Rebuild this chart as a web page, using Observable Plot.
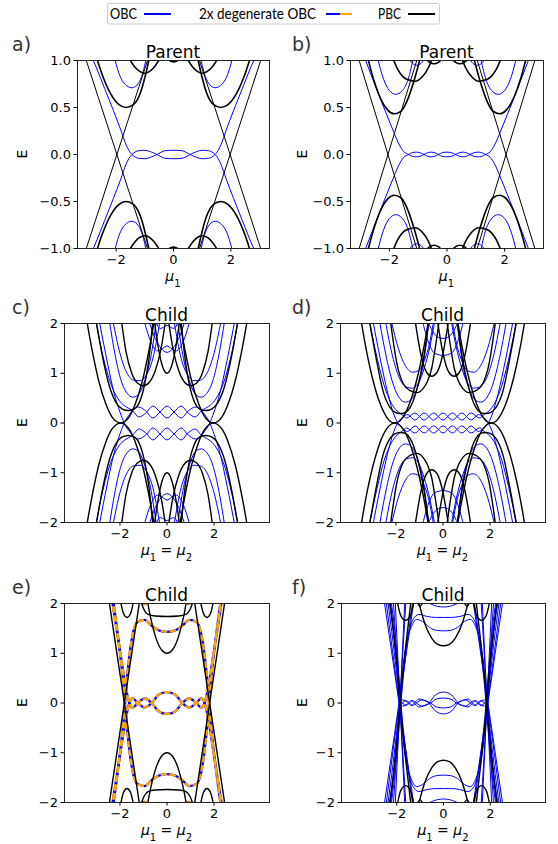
<!DOCTYPE html>
<html>
<head>
<meta charset="utf-8">
<script src="https://cdn.jsdelivr.net/npm/d3@7"></script>
<script src="https://cdn.jsdelivr.net/npm/@observablehq/plot@0.6"></script>
<style>
  body { margin: 0; background: #fff; }
  #fig { position: relative; width: 558px; height: 844px; overflow: hidden; background: #fff; }
  #fig svg { position: absolute; }
</style>
</head>
<body>
<div id="fig"></div>
<script>
// ---------- spectra E(mu), each curve is a list of [mu, E] samples ----------

// (a) parent, first parameter set
const aCross = [
  [[-3.15,1.1],[-0.8,-1.1]],
  [[-3.15,-1.1],[-0.8,1.1]],
  [[0.8,1.1],[3.15,-1.1]],
  [[0.8,-1.1],[3.15,1.1]]
];
const aPBC = [
  [[-2.8,1.15],[-2.5,0.86],[-2.2,0.65],[-1.9,0.53],[-1.65,0.5],[-1.4,0.53],[-1.15,0.66],[-0.95,0.88],[-0.78,1.12]],
  [[0.78,1.12],[0.95,0.88],[1.15,0.66],[1.4,0.53],[1.65,0.5],[1.9,0.53],[2.2,0.65],[2.5,0.86],[2.8,1.15]],
  [[-2.8,-1.15],[-2.5,-0.86],[-2.2,-0.65],[-1.9,-0.53],[-1.65,-0.5],[-1.4,-0.53],[-1.15,-0.66],[-0.95,-0.88],[-0.78,-1.12]],
  [[0.78,-1.12],[0.95,-0.88],[1.15,-0.66],[1.4,-0.53],[1.65,-0.5],[1.9,-0.53],[2.2,-0.65],[2.5,-0.86],[2.8,-1.15]],
  [[-1.6,1.05],[-1.35,0.93],[-1.0,0.865],[-0.7,0.92],[-0.42,1.05]],
  [[0.42,1.05],[0.7,0.92],[1.0,0.865],[1.35,0.93],[1.6,1.05]],
  [[-1.6,-1.05],[-1.35,-0.93],[-1.0,-0.865],[-0.7,-0.92],[-0.42,-1.05]],
  [[0.42,-1.05],[0.7,-0.92],[1.0,-0.865],[1.35,-0.93],[1.6,-1.05]],
  [[-0.35,1.04],[0,0.985],[0.35,1.04]],
  [[-0.35,-1.04],[0,-0.985],[0.35,-1.04]]
];
const aOBC = [
  [[-2.95,1.1],[-2.7,0.93],[-2.4,0.7],[-2.1,0.47],[-1.85,0.27],[-1.65,0.1],[-1.52,0.025],[-1.45,0],[-1.22,-0.04],[-1.0,-0.045],[-0.8,-0.03],[-0.58,0],[-0.3,0.04],[0,0.045],[0.3,0.04],[0.58,0],[0.8,-0.03],[1.0,-0.045],[1.22,-0.04],[1.45,0],[1.52,0.025],[1.65,0.1],[1.85,0.27],[2.1,0.47],[2.4,0.7],[2.7,0.93],[2.95,1.1]],
  [[-2.95,-1.1],[-2.7,-0.93],[-2.4,-0.7],[-2.1,-0.47],[-1.85,-0.27],[-1.65,-0.1],[-1.52,-0.025],[-1.45,0],[-1.22,0.04],[-1.0,0.045],[-0.8,0.03],[-0.58,0],[-0.3,-0.04],[0,-0.045],[0.3,-0.04],[0.58,0],[0.8,0.03],[1.0,0.045],[1.22,0.04],[1.45,0],[1.52,-0.025],[1.65,-0.1],[1.85,-0.27],[2.1,-0.47],[2.4,-0.7],[2.7,-0.93],[2.95,-1.1]],
  [[-2.1,1.08],[-1.9,0.86],[-1.7,0.75],[-1.45,0.71],[-1.22,0.76],[-1.08,0.86],[-0.93,1.05]],
  [[0.93,1.05],[1.08,0.86],[1.22,0.76],[1.45,0.71],[1.7,0.75],[1.9,0.86],[2.1,1.08]],
  [[-2.1,-1.08],[-1.9,-0.86],[-1.7,-0.75],[-1.45,-0.71],[-1.22,-0.76],[-1.08,-0.86],[-0.93,-1.05]],
  [[0.93,-1.05],[1.08,-0.86],[1.22,-0.76],[1.45,-0.71],[1.7,-0.75],[1.9,-0.86],[2.1,-1.08]]
];

// (b) parent, second parameter set
const bCross = [
  [[-3.15,1.1],[-0.95,-1.1]],
  [[-3.15,-1.1],[-0.95,1.1]],
  [[0.95,1.1],[3.15,-1.1]],
  [[0.95,-1.1],[3.15,1.1]]
];
const bPBC = [
  [[-2.85,1.15],[-2.55,0.8],[-2.25,0.56],[-2.05,0.47],[-1.83,0.433],[-1.6,0.46],[-1.4,0.56],[-1.15,0.78],[-0.85,1.12]],
  [[0.85,1.12],[1.15,0.78],[1.4,0.56],[1.6,0.46],[1.83,0.433],[2.05,0.47],[2.25,0.56],[2.55,0.8],[2.85,1.15]],
  [[-2.85,-1.15],[-2.55,-0.8],[-2.25,-0.56],[-2.05,-0.47],[-1.83,-0.433],[-1.6,-0.46],[-1.4,-0.56],[-1.15,-0.78],[-0.85,-1.12]],
  [[0.85,-1.12],[1.15,-0.78],[1.4,-0.56],[1.6,-0.46],[1.83,-0.433],[2.05,-0.47],[2.25,-0.56],[2.55,-0.8],[2.85,-1.15]],
  [[-1.95,1.08],[-1.7,0.9],[-1.4,0.8],[-1.1,0.78],[-0.85,0.83],[-0.65,0.92],[-0.48,1.05]],
  [[0.48,1.05],[0.65,0.92],[0.85,0.83],[1.1,0.78],[1.4,0.8],[1.7,0.9],[1.95,1.08]],
  [[-1.95,-1.08],[-1.7,-0.9],[-1.4,-0.8],[-1.1,-0.78],[-0.85,-0.83],[-0.65,-0.92],[-0.48,-1.05]],
  [[0.48,-1.05],[0.65,-0.92],[0.85,-0.83],[1.1,-0.78],[1.4,-0.8],[1.7,-0.9],[1.95,-1.08]],
  [[-0.78,1.04],[-0.6,0.98],[-0.45,0.965],[-0.3,0.98],[-0.12,1.04]],
  [[0.12,1.04],[0.3,0.98],[0.45,0.965],[0.6,0.98],[0.78,1.04]],
  [[-0.78,-1.04],[-0.6,-0.98],[-0.45,-0.965],[-0.3,-0.98],[-0.12,-1.04]],
  [[0.12,-1.04],[0.3,-0.98],[0.45,-0.965],[0.6,-0.98],[0.78,-1.04]]
];
const bOBC = [
  [[-2.95,-1.1],[-2.7,-0.9],[-2.4,-0.66],[-2.1,-0.43],[-1.85,-0.24],[-1.65,-0.1],[-1.5,-0.03],[-1.33,0],[-1.2,0.02],[-1.07,0.025],[-0.93,0.018],[-0.8,0],[-0.68,-0.018],[-0.55,-0.025],[-0.42,-0.018],[-0.3,0],[-0.15,0.02],[0,0.025],[0.15,0.02],[0.3,0],[0.42,-0.018],[0.55,-0.025],[0.68,-0.018],[0.8,0],[0.93,0.018],[1.07,0.025],[1.2,0.02],[1.33,0],[1.5,-0.03],[1.65,-0.1],[1.85,-0.24],[2.1,-0.43],[2.4,-0.66],[2.7,-0.9],[2.95,-1.1]],
  [[-2.95,1.1],[-2.7,0.9],[-2.4,0.66],[-2.1,0.43],[-1.85,0.24],[-1.65,0.1],[-1.5,0.03],[-1.33,0],[-1.2,-0.02],[-1.07,-0.025],[-0.93,-0.018],[-0.8,0],[-0.68,0.018],[-0.55,0.025],[-0.42,0.018],[-0.3,0],[-0.15,-0.02],[0,-0.025],[0.15,-0.02],[0.3,0],[0.42,0.018],[0.55,0.025],[0.68,0.018],[0.8,0],[0.93,-0.018],[1.07,-0.025],[1.2,-0.02],[1.33,0],[1.5,0.03],[1.65,0.1],[1.85,0.24],[2.1,0.43],[2.4,0.66],[2.7,0.9],[2.95,1.1]],
  [[-2.45,1.08],[-2.2,0.8],[-2.0,0.68],[-1.78,0.64],[-1.55,0.68],[-1.35,0.8],[-1.15,1.05]],
  [[1.15,1.05],[1.35,0.8],[1.55,0.68],[1.78,0.64],[2.0,0.68],[2.2,0.8],[2.45,1.08]],
  [[-2.45,-1.08],[-2.2,-0.8],[-2.0,-0.68],[-1.78,-0.64],[-1.55,-0.68],[-1.35,-0.8],[-1.15,-1.05]],
  [[1.15,-1.05],[1.35,-0.8],[1.55,-0.68],[1.78,-0.64],[2.0,-0.68],[2.2,-0.8],[2.45,-1.08]],
  [[-1.35,1.03],[-1.2,0.97],[-1.05,0.95],[-0.9,0.97],[-0.75,1.03]],
  [[0.75,1.03],[0.9,0.97],[1.05,0.95],[1.2,0.97],[1.35,1.03]],
  [[-1.35,-1.03],[-1.2,-0.97],[-1.05,-0.95],[-0.9,-0.97],[-0.75,-1.03]],
  [[0.75,-1.03],[0.9,-0.97],[1.05,-0.95],[1.2,-0.97],[1.35,-1.03]]
];

// (c) child built from parent (a)
const cPBC = [
  [[-3.5,2.3],[-3.2,1.5],[-2.9,0.84],[-2.6,0.38],[-2.35,0.13],[-2.15,0.03],[-1.975,0],[-1.8,0.03],[-1.6,0.13],[-1.35,0.38],[-1.05,0.84],[-0.75,1.5],[-0.45,2.3]],
  [[0.45,2.3],[0.75,1.5],[1.05,0.84],[1.35,0.38],[1.6,0.13],[1.8,0.03],[1.975,0],[2.15,0.03],[2.35,0.13],[2.6,0.38],[2.9,0.84],[3.2,1.5],[3.5,2.3]],
  [[-3.5,-2.3],[-3.2,-1.5],[-2.9,-0.84],[-2.6,-0.38],[-2.35,-0.13],[-2.15,-0.03],[-1.975,0],[-1.8,-0.03],[-1.6,-0.13],[-1.35,-0.38],[-1.05,-0.84],[-0.75,-1.5],[-0.45,-2.3]],
  [[0.45,-2.3],[0.75,-1.5],[1.05,-0.84],[1.35,-0.38],[1.6,-0.13],[1.8,-0.03],[1.975,0],[2.15,-0.03],[2.35,-0.13],[2.6,-0.38],[2.9,-0.84],[3.2,-1.5],[3.5,-2.3]],
  [[-3.05,2.15],[-2.75,1.35],[-2.45,0.74],[-2.15,0.4],[-1.9,0.28],[-1.65,0.25],[-1.4,0.28],[-1.15,0.44],[-0.95,0.77],[-0.78,1.25],[-0.6,2.05]],
  [[0.6,2.05],[0.78,1.25],[0.95,0.77],[1.15,0.44],[1.4,0.28],[1.65,0.25],[1.9,0.28],[2.15,0.4],[2.45,0.74],[2.75,1.35],[3.05,2.15]],
  [[-3.05,-2.15],[-2.75,-1.35],[-2.45,-0.74],[-2.15,-0.4],[-1.9,-0.28],[-1.65,-0.25],[-1.4,-0.28],[-1.15,-0.44],[-0.95,-0.77],[-0.78,-1.25],[-0.6,-2.05]],
  [[0.6,-2.05],[0.78,-1.25],[0.95,-0.77],[1.15,-0.44],[1.4,-0.28],[1.65,-0.25],[1.9,-0.28],[2.15,-0.4],[2.45,-0.74],[2.75,-1.35],[3.05,-2.15]],
  [[-1.95,2.1],[-1.75,1.45],[-1.5,1.0],[-1.25,0.8],[-1.0,0.75],[-0.75,0.82],[-0.5,1.05],[-0.25,1.5],[-0.05,2.1]],
  [[0.05,2.1],[0.25,1.5],[0.5,1.05],[0.75,0.82],[1.0,0.75],[1.25,0.8],[1.5,1.0],[1.75,1.45],[1.95,2.1]],
  [[-1.95,-2.1],[-1.75,-1.45],[-1.5,-1.0],[-1.25,-0.8],[-1.0,-0.75],[-0.75,-0.82],[-0.5,-1.05],[-0.25,-1.5],[-0.05,-2.1]],
  [[0.05,-2.1],[0.25,-1.5],[0.5,-1.05],[0.75,-0.82],[1.0,-0.75],[1.25,-0.8],[1.5,-1.0],[1.75,-1.45],[1.95,-2.1]],
  [[-0.55,2.1],[-0.4,1.6],[-0.2,1.15],[0,1.0],[0.2,1.15],[0.4,1.6],[0.55,2.1]],
  [[-0.55,-2.1],[-0.4,-1.6],[-0.2,-1.15],[0,-1.0],[0.2,-1.15],[0.4,-1.6],[0.55,-2.1]]
];
const cOBC = [
  [[-3.05,2.1],[-2.7,1.3],[-2.4,0.8],[-2.1,0.5],[-1.85,0.36],[-1.65,0.3],[-1.45,0.24],[-1.2,0.12],[-0.9,0.2],[-0.6,0.34],[-0.3,0.22],[0,0.1],[0.3,0.22],[0.6,0.34],[0.9,0.2],[1.2,0.12],[1.45,0.24],[1.65,0.3],[1.85,0.36],[2.1,0.5],[2.4,0.8],[2.7,1.3],[3.05,2.1]],
  [[-2.9,-2.1],[-2.55,-1.25],[-2.25,-0.6],[-2.0,-0.22],[-1.8,0.02],[-1.6,0.17],[-1.4,0.28],[-1.2,0.32],[-0.9,0.24],[-0.6,0.1],[-0.3,0.22],[0,0.34],[0.3,0.22],[0.6,0.1],[0.9,0.24],[1.2,0.32],[1.4,0.28],[1.6,0.17],[1.8,0.02],[2.0,-0.22],[2.25,-0.6],[2.55,-1.25],[2.9,-2.1]],
  [[-3.05,-2.1],[-2.7,-1.3],[-2.4,-0.8],[-2.1,-0.5],[-1.85,-0.36],[-1.65,-0.3],[-1.45,-0.24],[-1.2,-0.12],[-0.9,-0.2],[-0.6,-0.34],[-0.3,-0.22],[0,-0.1],[0.3,-0.22],[0.6,-0.34],[0.9,-0.2],[1.2,-0.12],[1.45,-0.24],[1.65,-0.3],[1.85,-0.36],[2.1,-0.5],[2.4,-0.8],[2.7,-1.3],[3.05,-2.1]],
  [[-2.9,2.1],[-2.55,1.25],[-2.25,0.6],[-2.0,0.22],[-1.8,-0.02],[-1.6,-0.17],[-1.4,-0.28],[-1.2,-0.32],[-0.9,-0.24],[-0.6,-0.1],[-0.3,-0.22],[0,-0.34],[0.3,-0.22],[0.6,-0.1],[0.9,-0.24],[1.2,-0.32],[1.4,-0.28],[1.6,-0.17],[1.8,-0.02],[2.0,0.22],[2.25,0.6],[2.55,1.25],[2.9,2.1]],
  [[-2.45,2.05],[-2.2,1.35],[-1.95,0.85],[-1.7,0.6],[-1.45,0.52],[-1.2,0.58],[-0.95,0.85],[-0.7,1.3],[-0.45,2.05]],
  [[0.45,2.05],[0.7,1.3],[0.95,0.85],[1.2,0.58],[1.45,0.52],[1.7,0.6],[1.95,0.85],[2.2,1.35],[2.45,2.05]],
  [[-2.45,-2.05],[-2.2,-1.35],[-1.95,-0.85],[-1.7,-0.6],[-1.45,-0.52],[-1.2,-0.58],[-0.95,-0.85],[-0.7,-1.3],[-0.45,-2.05]],
  [[0.45,-2.05],[0.7,-1.3],[0.95,-0.85],[1.2,-0.58],[1.45,-0.52],[1.7,-0.6],[1.95,-0.85],[2.2,-1.35],[2.45,-2.05]],
  [[-2.3,2.05],[-2.0,1.4],[-1.7,1.0],[-1.4,0.86],[-1.15,0.85],[-0.9,0.95],[-0.6,1.3],[-0.3,2.05]],
  [[0.3,2.05],[0.6,1.3],[0.9,0.95],[1.15,0.85],[1.4,0.86],[1.7,1.0],[2.0,1.4],[2.3,2.05]],
  [[-2.3,-2.05],[-2.0,-1.4],[-1.7,-1.0],[-1.4,-0.86],[-1.15,-0.85],[-0.9,-0.95],[-0.6,-1.3],[-0.3,-2.05]],
  [[0.3,-2.05],[0.6,-1.3],[0.9,-0.95],[1.15,-0.85],[1.4,-0.86],[1.7,-1.0],[2.0,-1.4],[2.3,-2.05]],
  [[-1.0,2.1],[-0.7,1.65],[-0.4,1.45],[-0.18,1.5],[0,1.55],[0.18,1.5],[0.4,1.45],[0.7,1.65],[1.0,2.1]],
  [[-0.8,2.1],[-0.5,1.7],[-0.25,1.5],[0,1.42],[0.25,1.5],[0.5,1.7],[0.8,2.1]],
  [[-0.5,2.05],[-0.28,1.9],[0,1.96],[0.28,1.9],[0.5,2.05]],
  [[-1.0,-2.1],[-0.7,-1.65],[-0.4,-1.45],[-0.18,-1.5],[0,-1.55],[0.18,-1.5],[0.4,-1.45],[0.7,-1.65],[1.0,-2.1]],
  [[-0.8,-2.1],[-0.5,-1.7],[-0.25,-1.5],[0,-1.42],[0.25,-1.5],[0.5,-1.7],[0.8,-2.1]],
  [[-0.5,-2.05],[-0.28,-1.9],[0,-1.96],[0.28,-1.9],[0.5,-2.05]]
];

// (d) child built from parent (b)
const dPBC = [
  [[-3.55,2.25],[-3.3,1.56],[-3.0,0.9],[-2.7,0.42],[-2.4,0.12],[-2.2,0.02],[-2.05,0],[-1.9,0.02],[-1.7,0.12],[-1.4,0.42],[-1.1,0.9],[-0.8,1.56],[-0.55,2.25]],
  [[0.55,2.25],[0.8,1.56],[1.1,0.9],[1.4,0.42],[1.7,0.12],[1.9,0.02],[2.05,0],[2.2,0.02],[2.4,0.12],[2.7,0.42],[3.0,0.9],[3.3,1.56],[3.55,2.25]],
  [[-3.55,-2.25],[-3.3,-1.56],[-3.0,-0.9],[-2.7,-0.42],[-2.4,-0.12],[-2.2,-0.02],[-2.05,0],[-1.9,-0.02],[-1.7,-0.12],[-1.4,-0.42],[-1.1,-0.9],[-0.8,-1.56],[-0.55,-2.25]],
  [[0.55,-2.25],[0.8,-1.56],[1.1,-0.9],[1.4,-0.42],[1.7,-0.12],[1.9,-0.02],[2.05,0],[2.2,-0.02],[2.4,-0.12],[2.7,-0.42],[3.0,-0.9],[3.3,-1.56],[3.55,-2.25]],
  [[-3.15,2.1],[-2.85,1.32],[-2.55,0.64],[-2.25,0.31],[-2.05,0.22],[-1.83,0.19],[-1.6,0.21],[-1.4,0.31],[-1.15,0.61],[-0.82,1.32],[-0.6,2.05]],
  [[0.6,2.05],[0.82,1.32],[1.15,0.61],[1.4,0.31],[1.6,0.21],[1.83,0.19],[2.05,0.22],[2.25,0.31],[2.55,0.64],[2.85,1.32],[3.15,2.1]],
  [[-3.15,-2.1],[-2.85,-1.32],[-2.55,-0.64],[-2.25,-0.31],[-2.05,-0.22],[-1.83,-0.19],[-1.6,-0.21],[-1.4,-0.31],[-1.15,-0.61],[-0.82,-1.32],[-0.6,-2.05]],
  [[0.6,-2.05],[0.82,-1.32],[1.15,-0.61],[1.4,-0.31],[1.6,-0.21],[1.83,-0.19],[2.05,-0.22],[2.25,-0.31],[2.55,-0.64],[2.85,-1.32],[3.15,-2.1]],
  [[-2.25,2.1],[-1.95,1.17],[-1.7,0.8],[-1.4,0.65],[-1.1,0.61],[-0.85,0.69],[-0.65,0.85],[-0.48,1.1],[-0.3,1.6],[-0.15,2.1]],
  [[0.15,2.1],[0.3,1.6],[0.48,1.1],[0.65,0.85],[0.85,0.69],[1.1,0.61],[1.4,0.65],[1.7,0.8],[1.95,1.17],[2.25,2.1]],
  [[-2.25,-2.1],[-1.95,-1.17],[-1.7,-0.8],[-1.4,-0.65],[-1.1,-0.61],[-0.85,-0.69],[-0.65,-0.85],[-0.48,-1.1],[-0.3,-1.6],[-0.15,-2.1]],
  [[0.15,-2.1],[0.3,-1.6],[0.48,-1.1],[0.65,-0.85],[0.85,-0.69],[1.1,-0.61],[1.4,-0.65],[1.7,-0.8],[1.95,-1.17],[2.25,-2.1]],
  [[-1.2,2.1],[-0.95,1.4],[-0.7,1.02],[-0.48,0.94],[-0.25,1.02],[0,1.4],[0.25,2.1]],
  [[-0.25,2.1],[0,1.4],[0.25,1.02],[0.48,0.94],[0.7,1.02],[0.95,1.4],[1.2,2.1]],
  [[-1.2,-2.1],[-0.95,-1.4],[-0.7,-1.02],[-0.48,-0.94],[-0.25,-1.02],[0,-1.4],[0.25,-2.1]],
  [[-0.25,-2.1],[0,-1.4],[0.25,-1.02],[0.48,-0.94],[0.7,-1.02],[0.95,-1.4],[1.2,-2.1]]
];
const dOBC = [
  [[-3.15,2.1],[-2.8,1.3],[-2.5,0.75],[-2.2,0.4],[-1.95,0.24],[-1.75,0.17],[-1.55,0.1],[-1.2,0.2],[-0.8,0.06],[-0.4,0.2],[0,0.06],[0.4,0.2],[0.8,0.06],[1.2,0.2],[1.55,0.1],[1.75,0.17],[1.95,0.24],[2.2,0.4],[2.5,0.75],[2.8,1.3],[3.15,2.1]],
  [[-3.0,-2.1],[-2.65,-1.25],[-2.35,-0.6],[-2.1,-0.18],[-1.9,0.02],[-1.7,0.12],[-1.5,0.17],[-1.2,0.06],[-0.8,0.2],[-0.4,0.06],[0,0.2],[0.4,0.06],[0.8,0.2],[1.2,0.06],[1.5,0.17],[1.7,0.12],[1.9,0.02],[2.1,-0.18],[2.35,-0.6],[2.65,-1.25],[3.0,-2.1]],
  [[-3.15,-2.1],[-2.8,-1.3],[-2.5,-0.75],[-2.2,-0.4],[-1.95,-0.24],[-1.75,-0.17],[-1.55,-0.1],[-1.2,-0.2],[-0.8,-0.06],[-0.4,-0.2],[0,-0.06],[0.4,-0.2],[0.8,-0.06],[1.2,-0.2],[1.55,-0.1],[1.75,-0.17],[1.95,-0.24],[2.2,-0.4],[2.5,-0.75],[2.8,-1.3],[3.15,-2.1]],
  [[-3.0,2.1],[-2.65,1.25],[-2.35,0.6],[-2.1,0.18],[-1.9,-0.02],[-1.7,-0.12],[-1.5,-0.17],[-1.2,-0.06],[-0.8,-0.2],[-0.4,-0.06],[0,-0.2],[0.4,-0.06],[0.8,-0.2],[1.2,-0.06],[1.5,-0.17],[1.7,-0.12],[1.9,-0.02],[2.1,0.18],[2.35,0.6],[2.65,1.25],[3.0,2.1]],
  [[-2.7,2.05],[-2.4,1.3],[-2.1,0.75],[-1.85,0.5],[-1.6,0.42],[-1.35,0.47],[-1.1,0.7],[-0.85,1.15],[-0.6,2.05]],
  [[0.6,2.05],[0.85,1.15],[1.1,0.7],[1.35,0.47],[1.6,0.42],[1.85,0.5],[2.1,0.75],[2.4,1.3],[2.7,2.05]],
  [[-2.7,-2.05],[-2.4,-1.3],[-2.1,-0.75],[-1.85,-0.5],[-1.6,-0.42],[-1.35,-0.47],[-1.1,-0.7],[-0.85,-1.15],[-0.6,-2.05]],
  [[0.6,-2.05],[0.85,-1.15],[1.1,-0.7],[1.35,-0.47],[1.6,-0.42],[1.85,-0.5],[2.1,-0.75],[2.4,-1.3],[2.7,-2.05]],
  [[-2.45,2.05],[-2.15,1.35],[-1.85,0.9],[-1.55,0.72],[-1.3,0.7],[-1.05,0.8],[-0.8,1.1],[-0.55,1.55],[-0.35,2.05]],
  [[0.35,2.05],[0.55,1.55],[0.8,1.1],[1.05,0.8],[1.3,0.7],[1.55,0.72],[1.85,0.9],[2.15,1.35],[2.45,2.05]],
  [[-2.45,-2.05],[-2.15,-1.35],[-1.85,-0.9],[-1.55,-0.72],[-1.3,-0.7],[-1.05,-0.8],[-0.8,-1.1],[-0.55,-1.55],[-0.35,-2.05]],
  [[0.35,-2.05],[0.55,-1.55],[0.8,-1.1],[1.05,-0.8],[1.3,-0.7],[1.55,-0.72],[1.85,-0.9],[2.15,-1.35],[2.45,-2.05]],
  [[-2.2,2.05],[-1.9,1.5],[-1.6,1.15],[-1.3,1.02],[-1.05,1.05],[-0.8,1.25],[-0.55,1.65],[-0.4,2.05]],
  [[0.4,2.05],[0.55,1.65],[0.8,1.25],[1.05,1.05],[1.3,1.02],[1.6,1.15],[1.9,1.5],[2.2,2.05]],
  [[-2.2,-2.05],[-1.9,-1.5],[-1.6,-1.15],[-1.3,-1.02],[-1.05,-1.05],[-0.8,-1.25],[-0.55,-1.65],[-0.4,-2.05]],
  [[0.4,-2.05],[0.55,-1.65],[0.8,-1.25],[1.05,-1.05],[1.3,-1.02],[1.6,-1.15],[1.9,-1.5],[2.2,-2.05]],
  [[-0.9,2.1],[-0.6,1.6],[-0.35,1.4],[0,1.36],[0.35,1.4],[0.6,1.6],[0.9,2.1]],
  [[-0.7,2.1],[-0.45,1.85],[-0.2,1.72],[0,1.7],[0.2,1.72],[0.45,1.85],[0.7,2.1]],
  [[-0.9,-2.1],[-0.6,-1.6],[-0.35,-1.4],[0,-1.36],[0.35,-1.4],[0.6,-1.6],[0.9,-2.1]],
  [[-0.7,-2.1],[-0.45,-1.85],[-0.2,-1.72],[0,-1.7],[0.2,-1.72],[0.45,-1.85],[0.7,-2.1]]
];

// (e) child with doubly degenerate open-boundary levels
const ePBC = [
  [[-2.48,2.1],[-1.15,-2.1]],
  [[-2.48,-2.1],[-1.15,2.1]],
  [[1.15,2.1],[2.48,-2.1]],
  [[1.15,-2.1],[2.48,2.1]],
  [[-2.0,2.1],[-1.85,1.8],[-1.7,1.72],[-1.55,1.8],[-1.4,2.1]],
  [[1.4,2.1],[1.55,1.8],[1.7,1.72],[1.85,1.8],[2.0,2.1]],
  [[-2.0,-2.1],[-1.85,-1.8],[-1.7,-1.72],[-1.55,-1.8],[-1.4,-2.1]],
  [[1.4,-2.1],[1.55,-1.8],[1.7,-1.72],[1.85,-1.8],[2.0,-2.1]],
  [[-1.15,2.1],[-1.0,1.9],[-0.8,1.78],[-0.5,1.75],[0,1.74],[0.5,1.75],[0.8,1.78],[1.0,1.9],[1.15,2.1]],
  [[-1.15,-2.1],[-1.0,-1.9],[-0.8,-1.78],[-0.5,-1.75],[0,-1.74],[0.5,-1.75],[0.8,-1.78],[1.0,-1.9],[1.15,-2.1]],
  [[-0.85,2.1],[-0.7,1.72],[-0.5,1.35],[-0.25,1.08],[0,1.0],[0.25,1.08],[0.5,1.35],[0.7,1.72],[0.85,2.1]],
  [[-0.85,-2.1],[-0.7,-1.72],[-0.5,-1.35],[-0.25,-1.08],[0,-1.0],[0.25,-1.08],[0.5,-1.35],[0.7,-1.72],[0.85,-2.1]]
];
const eDEG = [
  [[-2.35,2.1],[-2.15,1.5],[-1.95,0.9],[-1.8,0.45],[-1.68,0.15],[-1.6,0],[-1.45,-0.09],[-1.25,0],[-0.95,0.09],[-0.65,0],[-0.35,-0.17],[0,-0.22],[0.35,-0.17],[0.65,0],[0.95,0.09],[1.25,0],[1.45,-0.09],[1.6,0],[1.68,0.15],[1.8,0.45],[1.95,0.9],[2.15,1.5],[2.35,2.1]],
  [[-2.35,-2.1],[-2.15,-1.5],[-1.95,-0.9],[-1.8,-0.45],[-1.68,-0.15],[-1.6,0],[-1.45,0.09],[-1.25,0],[-0.95,-0.09],[-0.65,0],[-0.35,0.17],[0,0.22],[0.35,0.17],[0.65,0],[0.95,-0.09],[1.25,0],[1.45,0.09],[1.6,0],[1.68,-0.15],[1.8,-0.45],[1.95,-0.9],[2.15,-1.5],[2.35,-2.1]],
  [[-2.3,-2.1],[-2.1,-1.4],[-1.95,-0.8],[-1.82,-0.2],[-1.72,0.4],[-1.6,0.95],[-1.45,1.4],[-1.25,1.63],[-0.95,1.67],[-0.65,1.55],[-0.35,1.46],[0,1.43],[0.35,1.46],[0.65,1.55],[0.95,1.67],[1.25,1.63],[1.45,1.4],[1.6,0.95],[1.72,0.4],[1.82,-0.2],[1.95,-0.8],[2.1,-1.4],[2.3,-2.1]],
  [[-2.3,2.1],[-2.1,1.4],[-1.95,0.8],[-1.82,0.2],[-1.72,-0.4],[-1.6,-0.95],[-1.45,-1.4],[-1.25,-1.63],[-0.95,-1.67],[-0.65,-1.55],[-0.35,-1.46],[0,-1.43],[0.35,-1.46],[0.65,-1.55],[0.95,-1.67],[1.25,-1.63],[1.45,-1.4],[1.6,-0.95],[1.72,-0.4],[1.82,0.2],[1.95,0.8],[2.1,1.4],[2.3,2.1]],
  [[-1.25,2.1],[-0.95,1.99],[-0.65,2.1]],
  [[0.65,2.1],[0.95,1.99],[1.25,2.1]],
  [[-1.25,-2.1],[-0.95,-1.99],[-0.65,-2.1]],
  [[0.65,-2.1],[0.95,-1.99],[1.25,-2.1]]
];

// (f) child, degeneracy lifted
const fPBC = [
  [[-2.3,2.1],[-2.1,1.3],[-1.95,0.6],[-1.85,0],[-1.72,-0.7],[-1.55,-1.4],[-1.38,-2.1]],
  [[-2.3,-2.1],[-2.1,-1.3],[-1.95,-0.6],[-1.85,0],[-1.72,0.7],[-1.55,1.4],[-1.38,2.1]],
  [[1.38,2.1],[1.55,1.4],[1.72,0.7],[1.85,0],[1.95,-0.6],[2.1,-1.3],[2.3,-2.1]],
  [[1.38,-2.1],[1.55,-1.4],[1.72,-0.7],[1.85,0],[1.95,0.6],[2.1,1.3],[2.3,2.1]],
  [[-2.0,2.1],[-1.82,1.75],[-1.62,1.66],[-1.42,1.75],[-1.25,2.1]],
  [[1.25,2.1],[1.42,1.75],[1.62,1.66],[1.82,1.75],[2.0,2.1]],
  [[-2.0,-2.1],[-1.82,-1.75],[-1.62,-1.66],[-1.42,-1.75],[-1.25,-2.1]],
  [[1.25,-2.1],[1.42,-1.75],[1.62,-1.66],[1.82,-1.75],[2.0,-2.1]],
  [[-1.1,2.1],[-0.8,1.6],[-0.5,1.3],[-0.25,1.18],[0,1.15],[0.25,1.18],[0.5,1.3],[0.8,1.6],[1.1,2.1]],
  [[-1.1,-2.1],[-0.8,-1.6],[-0.5,-1.3],[-0.25,-1.18],[0,-1.15],[0.25,-1.18],[0.5,-1.3],[0.8,-1.6],[1.1,-2.1]],
  [[-1.2,2.1],[-1.0,1.95],[-0.8,2.1]],
  [[0.8,2.1],[1.0,1.95],[1.2,2.1]],
  [[-1.2,-2.1],[-1.0,-1.95],[-0.8,-2.1]],
  [[0.8,-2.1],[1.0,-1.95],[1.2,-2.1]]
];
const fOBC = [
  [[-2.4,2.1],[-2.15,1.2],[-1.98,0.5],[-1.88,0.1],[-1.8,0.03],[-1.65,-0.04],[-1.5,0],[-1.38,0.05],[-1.25,0],[-1.05,-0.08],[-0.85,-0.06],[-0.62,0],[-0.35,0.16],[0,0.22],[0.35,0.16],[0.62,0],[0.85,-0.06],[1.05,-0.08],[1.25,0],[1.38,0.05],[1.5,0],[1.65,-0.04],[1.8,0.03],[1.88,0.1],[1.98,0.5],[2.15,1.2],[2.4,2.1]],
  [[-2.4,-2.1],[-2.15,-1.2],[-1.98,-0.5],[-1.88,-0.1],[-1.8,-0.03],[-1.65,0.04],[-1.5,0],[-1.38,-0.05],[-1.25,0],[-1.05,0.08],[-0.85,0.06],[-0.62,0],[-0.35,-0.16],[0,-0.22],[0.35,-0.16],[0.62,0],[0.85,0.06],[1.05,0.08],[1.25,0],[1.38,-0.05],[1.5,0],[1.65,0.04],[1.8,-0.03],[1.88,-0.1],[1.98,-0.5],[2.15,-1.2],[2.4,-2.1]],
  [[-2.3,-2.1],[-2.08,-1.2],[-1.94,-0.5],[-1.86,-0.12],[-1.75,-0.06],[-1.6,-0.05],[-1.45,0],[-1.32,0.05],[-1.15,0],[-0.95,-0.06],[-0.75,-0.04],[-0.55,0],[-0.3,0.08],[0,0.1],[0.3,0.08],[0.55,0],[0.75,-0.04],[0.95,-0.06],[1.15,0],[1.32,0.05],[1.45,0],[1.6,-0.05],[1.75,-0.06],[1.86,-0.12],[1.94,-0.5],[2.08,-1.2],[2.3,-2.1]],
  [[-2.3,2.1],[-2.08,1.2],[-1.94,0.5],[-1.86,0.12],[-1.75,0.06],[-1.6,0.05],[-1.45,0],[-1.32,-0.05],[-1.15,0],[-0.95,0.06],[-0.75,0.04],[-0.55,0],[-0.3,-0.08],[0,-0.1],[0.3,-0.08],[0.55,0],[0.75,0.04],[0.95,0.06],[1.15,0],[1.32,-0.05],[1.45,0],[1.6,0.05],[1.75,0.06],[1.86,0.12],[1.94,0.5],[2.08,1.2],[2.3,2.1]],
  [[-2.25,-2.1],[-2.05,-1.3],[-1.92,-0.6],[-1.8,0.1],[-1.68,0.7],[-1.52,1.3],[-1.3,1.68],[-1.05,1.78],[-0.7,1.74],[-0.35,1.72],[0,1.72],[0.35,1.72],[0.7,1.74],[1.05,1.78],[1.3,1.68],[1.52,1.3],[1.68,0.7],[1.8,0.1],[1.92,-0.6],[2.05,-1.3],[2.25,-2.1]],
  [[-2.25,2.1],[-2.05,1.3],[-1.92,0.6],[-1.8,-0.1],[-1.68,-0.7],[-1.52,-1.3],[-1.3,-1.68],[-1.05,-1.78],[-0.7,-1.74],[-0.35,-1.72],[0,-1.72],[0.35,-1.72],[0.7,-1.74],[1.05,-1.78],[1.3,-1.68],[1.52,-1.3],[1.68,-0.7],[1.8,-0.1],[1.92,0.6],[2.05,1.3],[2.25,2.1]],
  [[-2.35,-2.1],[-2.12,-1.3],[-1.98,-0.6],[-1.86,0.1],[-1.75,0.6],[-1.6,1.15],[-1.4,1.5],[-1.15,1.68],[-0.9,1.64],[-0.6,1.52],[-0.3,1.46],[0,1.45],[0.3,1.46],[0.6,1.52],[0.9,1.64],[1.15,1.68],[1.4,1.5],[1.6,1.15],[1.75,0.6],[1.86,0.1],[1.98,-0.6],[2.12,-1.3],[2.35,-2.1]],
  [[-2.35,2.1],[-2.12,1.3],[-1.98,0.6],[-1.86,-0.1],[-1.75,-0.6],[-1.6,-1.15],[-1.4,-1.5],[-1.15,-1.68],[-0.9,-1.64],[-0.6,-1.52],[-0.3,-1.46],[0,-1.45],[0.3,-1.46],[0.6,-1.52],[0.9,-1.64],[1.15,-1.68],[1.4,-1.5],[1.6,-1.15],[1.75,-0.6],[1.86,-0.1],[1.98,0.6],[2.12,1.3],[2.35,2.1]],
  [[-2.55,2.1],[-1.9,0],[-1.25,-2.1]],
  [[-2.47,2.1],[-1.89,0],[-1.3,-2.1]],
  [[-2.15,2.1],[-1.87,0],[-1.6,-2.1]],
  [[-2.07,2.1],[-1.86,0],[-1.65,-2.1]],
  [[-2.55,-2.1],[-1.9,0],[-1.25,2.1]],
  [[-2.47,-2.1],[-1.89,0],[-1.3,2.1]],
  [[-2.15,-2.1],[-1.87,0],[-1.6,2.1]],
  [[-2.07,-2.1],[-1.86,0],[-1.65,2.1]],
  [[1.25,-2.1],[1.9,0],[2.55,2.1]],
  [[1.3,-2.1],[1.89,0],[2.47,2.1]],
  [[1.6,-2.1],[1.87,0],[2.15,2.1]],
  [[1.65,-2.1],[1.86,0],[2.07,2.1]],
  [[1.25,2.1],[1.9,0],[2.55,-2.1]],
  [[1.3,2.1],[1.89,0],[2.47,-2.1]],
  [[1.6,2.1],[1.87,0],[2.15,-2.1]],
  [[1.65,2.1],[1.86,0],[2.07,-2.1]],
  [[-0.9,2.1],[-0.5,1.98],[0,1.93],[0.5,1.98],[0.9,2.1]],
  [[-0.9,-2.1],[-0.5,-1.98],[0,-1.93],[0.5,-1.98],[0.9,-2.1]]
];

// axis ticks
const xTicks = [-2, 0, 2];
const parentYTicks = [-1, -0.5, 0, 0.5, 1];
const childYTicks = [-2, -1, 0, 1, 2];

// ---------- layout ----------
const fig = document.getElementById("fig");
const minus = v => (v < 0 ? "\u2212" : "") + Math.abs(v);
const minus1 = v => (v < 0 ? "\u2212" : "") + Math.abs(v).toFixed(1);
const rows = curves => curves.flatMap((c, i) => c.map(([x, y]) => ({id: i, x, y})));

const panels = [
  {tag: "a)", title: "Parent", col: 0,   l: 77,  r: 269, t: 60,  b: 248, xmax: 3.35, ymax: 1, yticks: parentYTicks, yfmt: minus1, cross: aCross, pbc: aPBC, obc: aOBC, child: false},
  {tag: "b)", title: "Parent", col: 280, l: 350, r: 543, t: 60,  b: 248, xmax: 3.35, ymax: 1, yticks: parentYTicks, yfmt: minus1, cross: bCross, pbc: bPBC, obc: bOBC, child: false},
  {tag: "c)", title: "Child",  col: 0,   l: 64,  r: 269, t: 323, b: 522, xmax: 4.36, ymax: 2, yticks: childYTicks, yfmt: minus, pbc: cPBC, obc: cOBC, child: true},
  {tag: "d)", title: "Child",  col: 280, l: 340, r: 545, t: 323, b: 522, xmax: 4.36, ymax: 2, yticks: childYTicks, yfmt: minus, pbc: dPBC, obc: dOBC, child: true},
  {tag: "e)", title: "Child",  col: 0,   l: 64,  r: 269, t: 603, b: 802, xmax: 4.36, ymax: 2, yticks: childYTicks, yfmt: minus, pbc: ePBC, deg: eDEG, child: true},
  {tag: "f)", title: "Child",  col: 280, l: 341, r: 545, t: 603, b: 802, xmax: 4.36, ymax: 2, yticks: childYTicks, yfmt: minus, pbc: fPBC, obc: fOBC, child: true}
];

const lineOpts = {x: "x", y: "y", z: "id", curve: "monotone-x", clip: true};

for (const p of panels) {
  const W = 278, left = p.col, top = p.t - 30, H = p.b - p.t + 60;
  const marks = [];
  if (p.obc) marks.push(Plot.line(rows(p.obc), {...lineOpts, stroke: "#0000ff", strokeWidth: 1}));
  if (p.deg) {
    marks.push(Plot.line(rows(p.deg), {...lineOpts, stroke: "#0000ff", strokeWidth: 2.3}));
    marks.push(Plot.line(rows(p.deg), {...lineOpts, stroke: "orange", strokeWidth: 2.3, strokeDasharray: "4.5,4.5"}));
  }
  if (p.cross) marks.push(Plot.line(rows(p.cross), {...lineOpts, stroke: "black", strokeWidth: 1}));
  marks.push(Plot.line(rows(p.pbc), {...lineOpts, stroke: "black", strokeWidth: p.child ? 1.4 : 1.6}));
  marks.push(Plot.frame({stroke: "#222", strokeWidth: 1}));
  marks.push(Plot.axisX({ticks: xTicks, tickSize: 3.5, tickPadding: 2.5, tickFormat: minus, label: null, fontSize: 13}));
  marks.push(Plot.axisY({ticks: p.yticks, tickSize: 3.5, tickPadding: 3, tickFormat: p.yfmt, label: null, fontSize: 13}));
  const svg = Plot.plot({
    width: W, height: H,
    marginLeft: p.l - left, marginRight: left + W - p.r, marginTop: 30, marginBottom: 30,
    x: {domain: [-p.xmax, p.xmax]},
    y: {domain: [-p.ymax, p.ymax]},
    style: {background: "none", fontFamily: "DejaVu Sans", fontSize: "13px", color: "black", overflow: "visible"},
    marks
  });
  svg.style.left = left + "px";
  svg.style.top = top + "px";
  fig.appendChild(svg);
}

// ---------- titles, labels and legend ----------
const over = d3.select(fig).append("svg")
  .attr("width", 558).attr("height", 844)
  .style("left", "0px").style("top", "0px").style("pointer-events", "none");

for (const p of panels) {
  const cx = (p.l + p.r) / 2;
  over.append("text").attr("x", p.col + 12).attr("y", p.t - 9)
    .attr("font-family", "DejaVu Sans").attr("font-size", 19).attr("fill", "#333")
    .text(p.tag);
  over.append("text").attr("x", cx).attr("y", p.t - 2.5)
    .attr("text-anchor", "middle").attr("font-family", "DejaVu Sans").attr("font-size", 17)
    .text(p.title);
  const ey = (p.t + p.b) / 2;
  over.append("text").attr("transform", `translate(${p.col + 27},${ey}) rotate(-90)`)
    .attr("text-anchor", "middle").attr("font-family", "DejaVu Sans").attr("font-size", 14)
    .text("E");
  const xl = over.append("text").attr("x", cx).attr("y", p.b + 33)
    .attr("text-anchor", "middle").attr("font-family", "DejaVu Sans").attr("font-size", 14);
  xl.append("tspan").attr("font-style", "italic").text("μ");
  xl.append("tspan").attr("font-size", 10).attr("baseline-shift", "sub").text("1");
  if (p.child) {
    xl.append("tspan").text(" = ");
    xl.append("tspan").attr("font-style", "italic").text("μ");
    xl.append("tspan").attr("font-size", 10).attr("baseline-shift", "sub").text("2");
  }
}

// legend
const lg = over.append("g").attr("font-family", "Lato").attr("font-size", 15);
lg.append("rect").attr("x", 107.5).attr("y", 3.5).attr("width", 332).attr("height", 20.5)
  .attr("rx", 2).attr("fill", "white").attr("stroke", "#cccccc");
lg.append("text").attr("x", 110).attr("y", 19).attr("textLength", 27).attr("lengthAdjust", "spacingAndGlyphs").text("OBC");
lg.append("line").attr("x1", 144).attr("x2", 171).attr("y1", 14).attr("y2", 14).attr("stroke", "#0000ff").attr("stroke-width", 2);
lg.append("text").attr("x", 199).attr("y", 19).attr("textLength", 117).attr("lengthAdjust", "spacingAndGlyphs").text("2x degenerate OBC");
lg.append("line").attr("x1", 326).attr("x2", 340).attr("y1", 14).attr("y2", 14).attr("stroke", "#0000ff").attr("stroke-width", 2);
lg.append("line").attr("x1", 340).attr("x2", 352).attr("y1", 14).attr("y2", 14).attr("stroke", "orange").attr("stroke-width", 2);
lg.append("text").attr("x", 378).attr("y", 19).attr("textLength", 23).attr("lengthAdjust", "spacingAndGlyphs").text("PBC");
lg.append("line").attr("x1", 408).attr("x2", 435).attr("y1", 14).attr("y2", 14).attr("stroke", "black").attr("stroke-width", 2);
</script>
</body>
</html>
